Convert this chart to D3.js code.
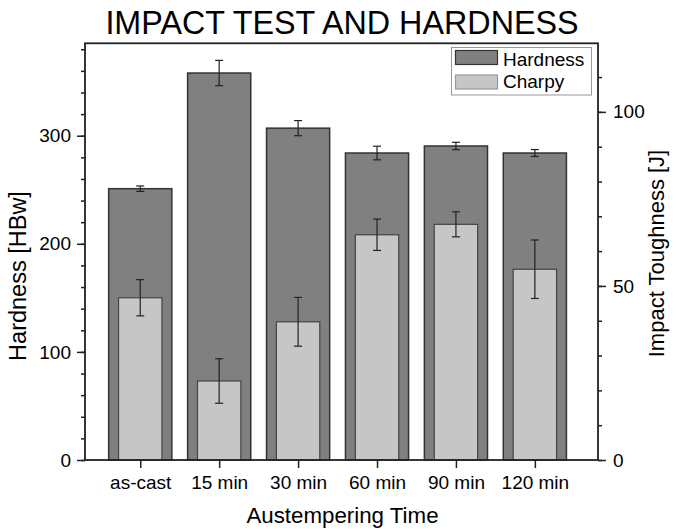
<!DOCTYPE html>
<html>
<head>
<meta charset="utf-8">
<script src="https://cdn.jsdelivr.net/npm/d3@7"></script>
<style>
  body { margin: 0; background: #fff; }
  svg text { font-family: "Liberation Sans", Arial, sans-serif; fill: #000; }
</style>
</head>
<body>
<script>
const categories = ["as-cast", "15 min", "30 min", "60 min", "90 min", "120 min"];
const hardness = [251, 358, 307, 284, 290.5, 284];
const hardnessErr = [2.5, 11.7, 7, 6.3, 3.4, 3.2];
const charpy = [46.6, 22.7, 39.7, 64.7, 67.7, 54.8];
const charpyErr = [5.2, 6.4, 7.0, 4.5, 3.6, 8.4];
const leftTicks = [0, 100, 200, 300];
const rightTicks = [0, 50, 100];

const w = 676, h = 529;
const m = {left: 85, right: 598, top: 43.3, bottom: 460};

const svg = d3.select("body").append("svg")
  .attr("width", w)
  .attr("height", h);

const x = d3.scaleLinear().domain([0.3, 6.8]).range([m.left, m.right]);
const yL = d3.scaleLinear().domain([0, 385.5]).range([m.bottom, m.top]);
const yR = d3.scaleLinear().domain([0, 119.7]).range([m.bottom, m.top]);

const hw = 0.8, cw = 0.55;

// hardness bars
svg.append("g").selectAll("rect")
  .data(hardness)
  .enter().append("rect")
  .attr("x", (d, i) => x(i + 1 - hw / 2))
  .attr("width", (d, i) => x(i + 1 + hw / 2) - x(i + 1 - hw / 2))
  .attr("y", d => yL(d))
  .attr("height", d => yL(0) - yL(d))
  .attr("fill", "#808080")
  .attr("stroke", "#333")
  .attr("stroke-width", 1.5);

// charpy bars
svg.append("g").selectAll("rect")
  .data(charpy)
  .enter().append("rect")
  .attr("x", (d, i) => x(i + 1 - cw / 2))
  .attr("width", (d, i) => x(i + 1 + cw / 2) - x(i + 1 - cw / 2))
  .attr("y", d => yR(d))
  .attr("height", d => yR(0) - yR(d))
  .attr("fill", "#c6c6c6")
  .attr("stroke", "#444")
  .attr("stroke-width", 1.2);

// error bars
function errBars(vals, errs, scale) {
  const g = svg.append("g").attr("stroke", "#222").attr("stroke-width", 1.2);
  vals.forEach((v, i) => {
    const cx = x(i + 1);
    const y1 = scale(v + errs[i]), y2 = scale(v - errs[i]);
    g.append("line").attr("x1", cx).attr("x2", cx).attr("y1", y1).attr("y2", y2);
    g.append("line").attr("x1", cx - 4).attr("x2", cx + 4).attr("y1", y1).attr("y2", y1);
    g.append("line").attr("x1", cx - 4).attr("x2", cx + 4).attr("y1", y2).attr("y2", y2);
  });
}
errBars(hardness, hardnessErr, yL);
errBars(charpy, charpyErr, yR);

// axes
const fs = "19px";
const axL = svg.append("g").attr("transform", "translate(" + m.left + ",0)")
  .call(d3.axisLeft(yL).tickValues(d3.range(0, 385, 20)).tickSize(4).tickFormat(""));
const axL2 = svg.append("g").attr("transform", "translate(" + m.left + ",0)")
  .call(d3.axisLeft(yL).tickValues(leftTicks).tickSize(8).tickPadding(6));
const axR = svg.append("g").attr("transform", "translate(" + m.right + ",0)")
  .call(d3.axisRight(yR).tickValues(d3.range(0, 120, 10)).tickSize(4).tickFormat(""));
const axR2 = svg.append("g").attr("transform", "translate(" + m.right + ",0)")
  .call(d3.axisRight(yR).tickValues(rightTicks).tickSize(8).tickPadding(7));
const axB = svg.append("g").attr("transform", "translate(0," + m.bottom + ")")
  .call(d3.axisBottom(x).tickValues(d3.range(1, 7)).tickSize(8).tickPadding(8)
    .tickFormat(d => categories[d - 1]));
[axL, axL2, axR, axR2, axB].forEach(a => {
  a.select(".domain").remove();
  a.selectAll("line").attr("stroke", "#222").attr("stroke-width", 1.5);
  a.selectAll("text").style("font-size", fs).attr("fill", "#111");
});

// frame
svg.append("rect")
  .attr("x", m.left).attr("y", m.top)
  .attr("width", m.right - m.left).attr("height", m.bottom - m.top)
  .attr("fill", "none").attr("stroke", "#222").attr("stroke-width", 1.8);

// titles
svg.append("text")
  .attr("x", 342).attr("y", 33.5)
  .attr("text-anchor", "middle")
  .style("font-size", "32.3px")
  .text("IMPACT TEST AND HARDNESS");
svg.append("text")
  .attr("x", 342.5).attr("y", 523)
  .attr("text-anchor", "middle")
  .style("font-size", "22.3px")
  .text("Austempering Time");
svg.append("text")
  .attr("transform", "translate(25.5,276) rotate(-90)")
  .attr("text-anchor", "middle")
  .style("font-size", "23.5px")
  .text("Hardness [HBw]");
svg.append("text")
  .attr("transform", "translate(664,253.5) rotate(-90)")
  .attr("text-anchor", "middle")
  .style("font-size", "22px")
  .text("Impact Toughness [J]");

// legend
const lg = svg.append("g");
lg.append("rect")
  .attr("x", 451.5).attr("y", 47.5).attr("width", 140).attr("height", 47.5)
  .attr("fill", "#fff").attr("stroke", "#999").attr("stroke-width", 1);
const legendItems = [["Hardness", "#808080", "#333"], ["Charpy", "#c6c6c6", "#999"]];
legendItems.forEach((it, i) => {
  lg.append("rect")
    .attr("x", 455.5).attr("y", 50.5 + i * 24.5).attr("width", 42).attr("height", 14)
    .attr("fill", it[1]).attr("stroke", it[2]).attr("stroke-width", 1.2);
  lg.append("text")
    .attr("x", 503).attr("y", 66 + i * 22)
    .style("font-size", "19px")
    .text(it[0]);
});
</script>
</body>
</html>
